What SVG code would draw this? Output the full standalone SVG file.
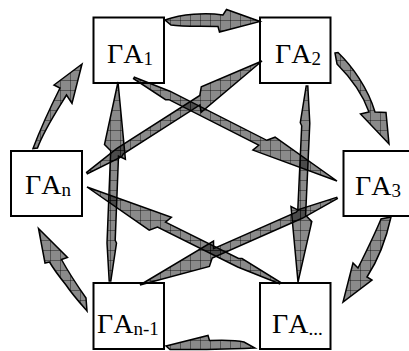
<svg xmlns="http://www.w3.org/2000/svg" width="409" height="351" viewBox="0 0 409 351">
<defs>
<pattern id="hatch" patternUnits="userSpaceOnUse" width="10" height="10">
<rect width="10" height="10" fill="#000" fill-opacity="0.46"/>
<path d="M0,0.5H10M0.5,0V10" stroke="#000" stroke-opacity="0.5" stroke-width="0.8" fill="none"/>
</pattern>
</defs>
<style>
.arr{fill:url(#hatch);stroke:#000;stroke-width:1.5;stroke-linejoin:miter}
.box{fill:#fff;stroke:#000;stroke-width:2}
.lbl{font-family:"Liberation Serif","Times New Roman",serif;font-size:28px;fill:#000}
.sub{font-size:19px}
</style>
<g id="node-ga1"><rect class="box" x="93.5" y="17.5" width="70.5" height="65.5"/><text class="lbl" x="107" y="63">ΓA<tspan class="sub" dy="2">1</tspan></text></g>
<g id="node-ga2"><rect class="box" x="260" y="17.5" width="70.5" height="65.5"/><text class="lbl" x="275" y="63">ΓA<tspan class="sub" dy="2">2</tspan></text></g>
<g id="node-gan"><rect class="box" x="11" y="151" width="71" height="65"/><text class="lbl" x="25" y="194">ΓA<tspan class="sub" dy="2">n</tspan></text></g>
<g id="node-ga3"><rect class="box" x="343.5" y="151" width="72" height="65"/><text class="lbl" x="355" y="195">ΓA<tspan class="sub" dy="2">3</tspan></text></g>
<g id="node-gan1"><rect class="box" x="93.5" y="283" width="70.5" height="66"/><text class="lbl" x="97" y="333">ΓA<tspan class="sub" dy="2">n-1</tspan></text></g>
<g id="node-gadots"><rect class="box" x="260" y="283" width="70.5" height="66"/><text class="lbl" x="272" y="333">ΓA<tspan class="sub" dy="2">...</tspan></text></g>
<g id="connectors">
<path class="arr" d="M165,20 C182,14 205,12.5 223,15 L226.5,9.5 L260,21.5 L219.5,32 L218,26.5 C200,26 183,27 171,25 Z"/>
<path class="arr" d="M335,53 L338,52.5 C352,66 368,88 375,112 L386,112.5 L389,144 L360.5,114 L369,112 C362,92 350,77 337,64 Z"/>
<path class="arr" d="M391,217 C386,240 378,260 367,277 L372,280 L343,302 L353,263 L358,268 C366,252 374,236 381,219 Z"/>
<path class="arr" d="M166,346 L208,335.5 L209.5,340.5 C224,340 236,340 244,342 L255,348 C228,349 196,350 170,349.5 Z"/>
<path class="arr" d="M38.5,228.5 L67.5,257.5 L61.5,259.5 C70,275 79,288 86,298 L87,311 C80,303 72,294 66,285 C58,275 53,268 49.5,262 L45,263 Z"/>
<path class="arr" d="M33,148.5 C40,130 50,108 60,88 L54,85 L82,64 L72,103.5 L66.5,95 C56,112 44,130 37.5,148 Z"/>
<polygon class="arr" points="134.4,77.3 169.9,91.2 266.8,140.3 275.1,137.2 337,181 252.9,150.1 258.7,145.2 169,99.7 165.6,99.7 133.6,78.7"/>
<polygon class="arr" points="86.6,172.3 116.6,148.7 199.8,95.5 201.3,86.8 262,61 201.1,112.4 199.9,104.9 123.4,153.9 121.7,156.7 87.4,173.7"/>
<polygon class="arr" points="279.6,283.7 237.7,267 157.5,227.1 149.2,230.2 87,187 171.4,217.2 165.5,222.2 238.6,258.5 242,258.5 280.4,282.3"/>
<polygon class="arr" points="337.3,198.7 302.2,218.3 212.2,258 209.4,266.4 140,285 213.5,241.1 213.6,248.7 296.3,212.2 298.4,209.6 336.7,197.3"/>
<polygon class="arr" points="109.2,281 107,242.9 110.7,150.8 104.5,144.5 118,82 125.4,159.3 118.5,156.1 115.2,240.2 116.5,243.2 110.8,281"/>
<polygon class="arr" points="307.8,86 309.8,123.2 305.6,215.3 311.8,221.6 298,282 291,206.6 297.8,209.9 301.7,125.8 300.3,122.7 306.2,86"/>
</g>
</svg>
